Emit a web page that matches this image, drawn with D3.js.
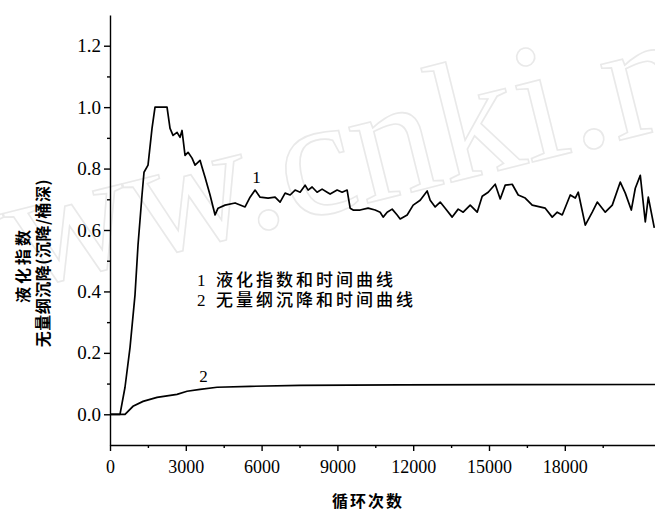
<!DOCTYPE html>
<html>
<head>
<meta charset="utf-8">
<script src="https://cdn.jsdelivr.net/npm/d3@7"></script>
<style>
  body { margin: 0; background: #fff; }
  svg { display: block; }
</style>
</head>
<body>
<script>
// curve 1: liquefaction index vs cycles
var cycles1 = [0, 396, 594, 792, 990, 1109, 1267, 1346, 1505, 1663, 1782, 2257, 2376, 2495, 2653, 2772, 2851, 2970, 3089, 3247, 3366, 3564, 3643, 3762, 3960, 4158, 4277, 4554, 4950, 5346, 5544, 5742, 5940, 6257, 6534, 6732, 6930, 7128, 7326, 7524, 7722, 7841, 7999, 8197, 8395, 8593, 8712, 8989, 9187, 9385, 9504, 9623, 9900, 10217, 10494, 10692, 10811, 10969, 11167, 11365, 11484, 11761, 11999, 12276, 12553, 12672, 12870, 13068, 13266, 13543, 13781, 13979, 14256, 14533, 14731, 14969, 15246, 15444, 15642, 15919, 16157, 16434, 16711, 17226, 17503, 17701, 17899, 18216, 18414, 18533, 18810, 19087, 19285, 19602, 19879, 20196, 20394, 20632, 20790, 20988, 21186, 21305, 21542];
var liqIndex = [0, 0, 0.088, 0.217, 0.389, 0.551, 0.714, 0.788, 0.811, 0.931, 1.0, 1.0, 0.931, 0.908, 0.918, 0.902, 0.924, 0.843, 0.853, 0.834, 0.811, 0.827, 0.804, 0.772, 0.714, 0.649, 0.671, 0.681, 0.688, 0.675, 0.707, 0.730, 0.707, 0.704, 0.707, 0.691, 0.720, 0.714, 0.730, 0.723, 0.746, 0.730, 0.740, 0.723, 0.733, 0.723, 0.717, 0.730, 0.723, 0.730, 0.671, 0.665, 0.665, 0.671, 0.665, 0.658, 0.642, 0.658, 0.668, 0.649, 0.636, 0.649, 0.681, 0.697, 0.727, 0.697, 0.675, 0.691, 0.671, 0.642, 0.668, 0.658, 0.681, 0.658, 0.710, 0.723, 0.749, 0.701, 0.746, 0.749, 0.714, 0.704, 0.681, 0.671, 0.642, 0.658, 0.649, 0.714, 0.704, 0.723, 0.616, 0.658, 0.691, 0.658, 0.681, 0.756, 0.720, 0.665, 0.736, 0.778, 0.626, 0.707, 0.607];

// curve 2: dimensionless settlement vs cycles
var cycles2 = [0, 594, 911, 1307, 1861, 2653, 3049, 3564, 4237, 5544, 7524, 11484, 21570];
var settlement = [0, 0, 0.026, 0.042, 0.055, 0.065, 0.075, 0.081, 0.088, 0.091, 0.094, 0.096, 0.097];

var xTicks = [0, 3000, 6000, 9000, 12000, 15000, 18000];
var xMinor = [1500, 4500, 7500, 10500, 13500, 16500, 19500];
var yTicks = [0.0, 0.2, 0.4, 0.6, 0.8, 1.0, 1.2];
var yMinor = [0.1, 0.3, 0.5, 0.7, 0.9, 1.1];

var w = 655;
var h = 513;
var svg = d3.select("body")
			.append("svg")
			.attr("width", w)
			.attr("height", h);

var x = d3.scaleLinear().domain([0, 21570]).range([110, 655]);
var y = d3.scaleLinear().domain([-0.1, 1.3]).range([445, 15]);

// watermark of the scan
svg.append("text")
	.text("www.cnki.net")
	.attr("transform", "translate(-97,319) rotate(-14)")
	.attr("font-family", "Liberation Serif")
	.attr("font-size", "170px")
	.attr("fill", "none")
	.attr("stroke", "#e9e9e9")
	.attr("stroke-width", 1.6);

// axes
var xAxis = svg.append("g")
	.attr("transform", "translate(0,445)")
	.call(d3.axisBottom(x).tickValues(xTicks).tickFormat(d3.format("d")).tickSize(6).tickSizeOuter(0));
svg.append("g")
	.attr("transform", "translate(0,445)")
	.call(d3.axisBottom(x).tickValues(xMinor).tickFormat("").tickSize(3).tickSizeOuter(0))
	.select(".domain").remove();

var yAxis = svg.append("g")
	.attr("transform", "translate(110,0)")
	.call(d3.axisLeft(y).tickValues(yTicks).tickFormat(d3.format(".1f")).tickSize(6).tickSizeOuter(0));
svg.append("g")
	.attr("transform", "translate(110,0)")
	.call(d3.axisLeft(y).tickValues(yMinor).tickFormat("").tickSize(3).tickSizeOuter(0))
	.select(".domain").remove();

svg.selectAll(".domain, .tick line")
	.attr("stroke", "#000")
	.attr("stroke-width", 1.4);

xAxis.selectAll("text")
	.attr("font-family", "Liberation Serif")
	.attr("font-size", "18px")
	.attr("fill", "#000")
	.attr("dy", "1.05em");
yAxis.selectAll("text")
	.attr("font-family", "Liberation Serif")
	.attr("font-size", "19px")
	.attr("fill", "#000")
	.attr("x", -9);

// lines
var line = d3.line()
	.x(function(d) { return x(d[0]); })
	.y(function(d) { return y(d[1]); });

svg.append("path")
	.datum(d3.zip(cycles1, liqIndex))
	.attr("d", line)
	.attr("fill", "none")
	.attr("stroke", "#000")
	.attr("stroke-width", 1.7)
	.attr("stroke-linejoin", "round");

svg.append("path")
	.datum(d3.zip(cycles2, settlement))
	.attr("d", line)
	.attr("fill", "none")
	.attr("stroke", "#000")
	.attr("stroke-width", 1.7);

// curve labels
svg.append("text")
	.text("1")
	.attr("x", x(5800))
	.attr("y", 183)
	.attr("text-anchor", "middle")
	.attr("font-family", "Liberation Serif")
	.attr("font-size", "17px");
svg.append("text")
	.text("2")
	.attr("x", x(3700))
	.attr("y", 382)
	.attr("text-anchor", "middle")
	.attr("font-family", "Liberation Serif")
	.attr("font-size", "17px");

// legend text
var legend = [["1", "液化指数和时间曲线"], ["2", "无量纲沉降和时间曲线"]];
legend.forEach(function(d, i) {
	svg.append("text")
		.text(d[0])
		.attr("x", 197)
		.attr("y", 286 + i * 20)
		.attr("font-family", "Liberation Serif")
		.attr("font-size", "17px");
	svg.append("text")
		.text(d[1])
		.attr("x", 216)
		.attr("y", 286 + i * 20)
		.attr("font-family", "Noto Sans CJK SC")
		.attr("font-size", "17px")
		.attr("font-weight", "500")
		.attr("letter-spacing", "3px");
});

// axis titles
svg.append("text")
	.text("循环次数")
	.attr("x", 368)
	.attr("y", 507)
	.attr("text-anchor", "middle")
	.attr("font-family", "Noto Sans CJK SC")
	.attr("font-size", "16px")
	.attr("font-weight", "bold")
	.attr("letter-spacing", "2px");

svg.append("text")
	.text("液化指数")
	.attr("transform", "translate(29,265) rotate(-90)")
	.attr("text-anchor", "middle")
	.attr("font-family", "Noto Sans CJK SC")
	.attr("font-size", "16px")
	.attr("font-weight", "bold")
	.attr("letter-spacing", "3px");
svg.append("text")
	.text("无量纲沉降(沉降/桶深)")
	.attr("transform", "translate(49,263) rotate(-90)")
	.attr("text-anchor", "middle")
	.attr("font-family", "Noto Sans CJK SC")
	.attr("font-size", "16px")
	.attr("font-weight", "bold")
	.attr("letter-spacing", "0.5px");
</script>
</body>
</html>
